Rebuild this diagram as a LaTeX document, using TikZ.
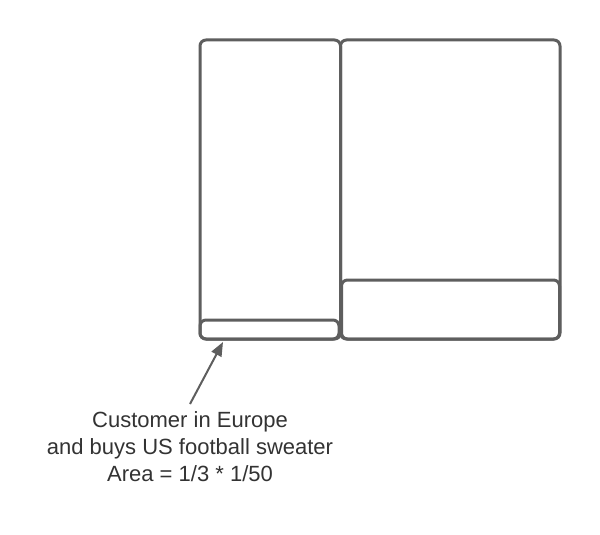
\documentclass[tikz,border=0pt]{standalone}
\usepackage{fontspec}
\setmainfont{Liberation Sans}
\usetikzlibrary{arrows.meta}
\definecolor{strokegray}{HTML}{5E5E5E}
\definecolor{textgray}{HTML}{333333}
\begin{document}
\begin{tikzpicture}[x=1pt,y=-1pt,
  box/.style={draw=strokegray, line width=3pt, rounded corners=6pt, inner sep=0pt, outer sep=0pt, anchor=north west},
  label/.style={text=textgray, align=center, font=\fontsize{22}{27}\selectfont, inner sep=0pt},
  pointer/.style={draw=strokegray, line width=2pt, -{Triangle[length=14pt,width=11pt]}}]
\useasboundingbox[fill=white] (0,0) rectangle (600,535);
\node[box, minimum width=140.5pt, minimum height=299pt] (L) at (200,40) {};
\node[box, minimum width=219.5pt, minimum height=299pt] (R) at (340.5,40) {};
\node[box, minimum width=139pt, minimum height=19pt] (S) at (200,320) {};
\node[box, minimum width=218pt, minimum height=59pt] (B) at (341.5,280) {};
\node[label, anchor=north] (T) at (190,411) {Customer in Europe\\and buys US football sweater\\Area = 1/3 * 1/50};
\coordinate (tail) at (190,404);
\coordinate (tip) at (223,342);
\draw[pointer] (tail) -- (tip);
\end{tikzpicture}
\end{document}
